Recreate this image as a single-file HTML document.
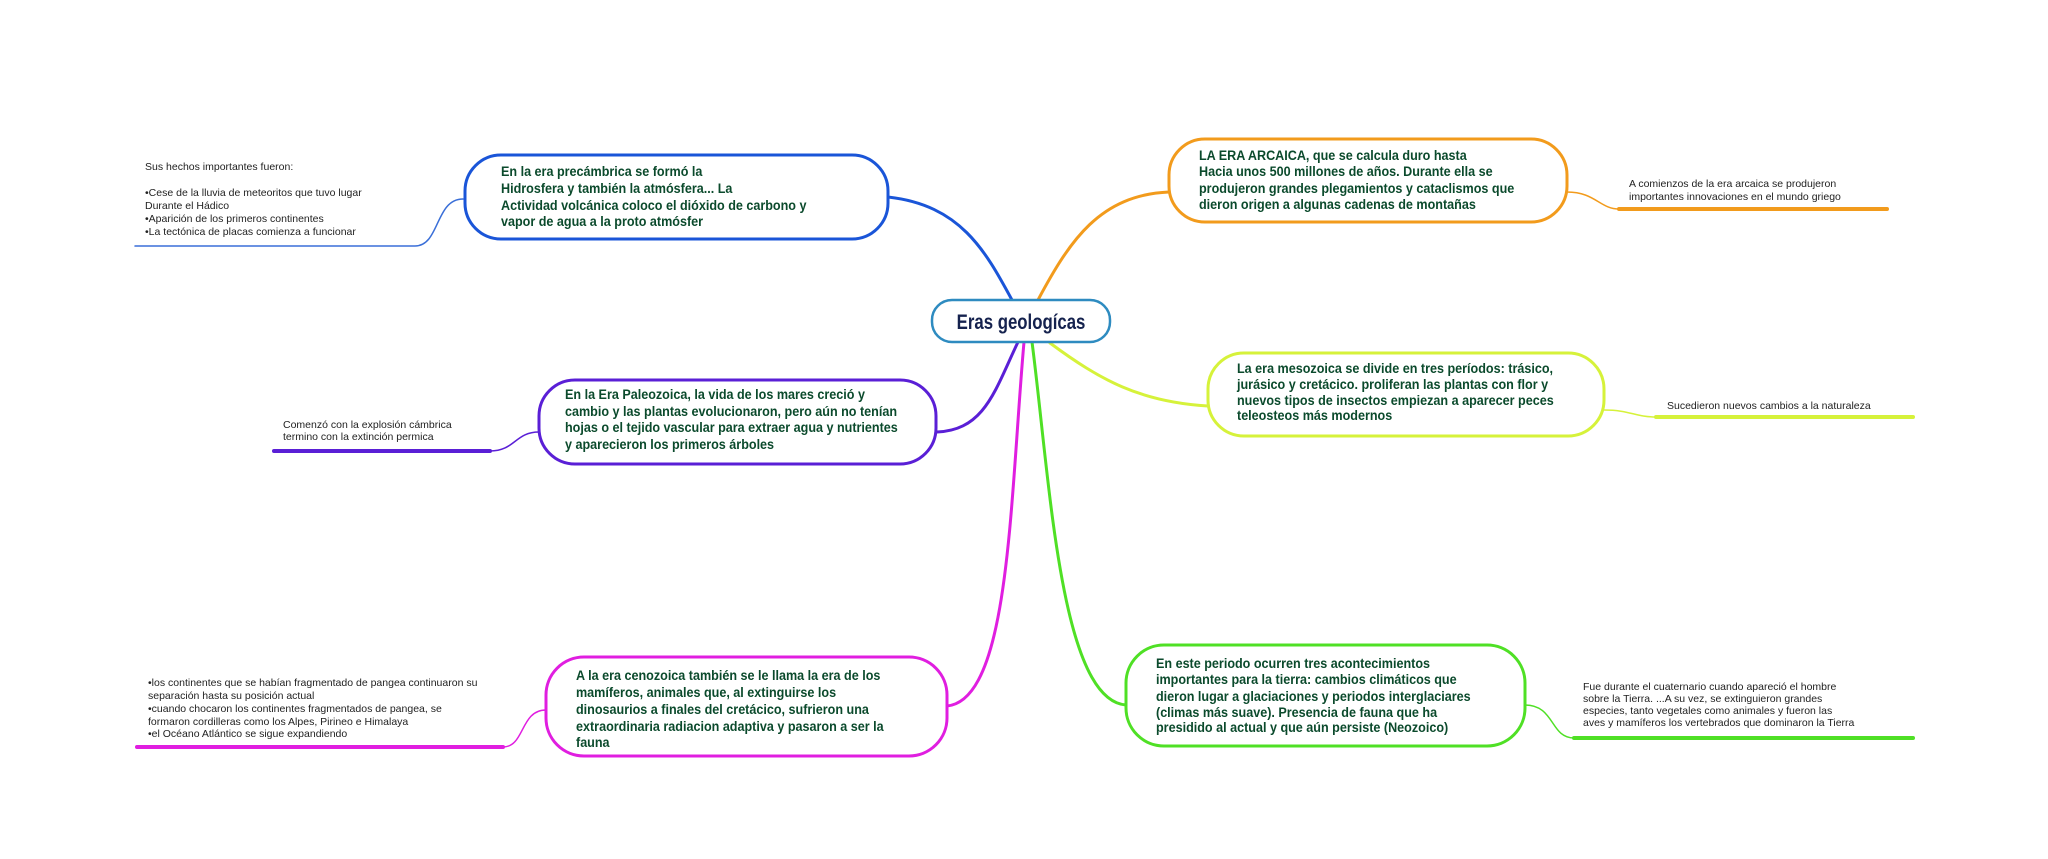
<!DOCTYPE html>
<html><head><meta charset="utf-8"><style>
html,body{margin:0;padding:0;background:#fff;}
svg{display:block;}
.m{font-family:"Liberation Sans",sans-serif;font-weight:bold;font-size:14px;fill:#0b4a2c;}
.n{font-family:"Liberation Sans",sans-serif;font-size:10.5px;fill:#222;}
</style></head><body>
<svg width="2048" height="859" viewBox="0 0 2048 859" xmlns="http://www.w3.org/2000/svg">
<g fill="none" stroke-linecap="round">
<path d="M1012,300 C985,250 960,205 888,197" stroke="#1a55d8" stroke-width="3"/>
<path d="M1038,300 C1070,240 1100,195 1169,192" stroke="#f29b1c" stroke-width="3"/>
<path d="M1050,343 C1100,380 1140,402 1208,406" stroke="#d6f23a" stroke-width="3"/>
<path d="M1032,342 C1050,480 1060,700 1126,705" stroke="#4fe025" stroke-width="3"/>
<path d="M1018,342 C995,390 985,430 937,432" stroke="#5a1fd6" stroke-width="3"/>
<path d="M1024,342 C1010,500 1010,700 947,706" stroke="#e01ee0" stroke-width="3"/>
<path d="M463,199 C435,199 440,246 415,246 L135,246" stroke="#3a6fd8" stroke-width="1.5"/>
<path d="M1567,192 C1595,192 1600,209 1619,209" stroke="#f29b1c" stroke-width="1.5"/>
<path d="M1619,209 L1887,209" stroke="#f29b1c" stroke-width="4"/>
<path d="M1604,410 C1630,410 1635,417 1656,417" stroke="#d6f23a" stroke-width="1.5"/>
<path d="M1656,417 L1913,417" stroke="#d6f23a" stroke-width="4"/>
<path d="M1525,705 C1555,705 1550,738 1574,738" stroke="#4fe025" stroke-width="1.5"/>
<path d="M1574,738 L1913,738" stroke="#4fe025" stroke-width="4"/>
<path d="M539,432 C515,432 515,451 490,451" stroke="#5a1fd6" stroke-width="1.5"/>
<path d="M490,451 L274,451" stroke="#5a1fd6" stroke-width="4"/>
<path d="M546,710 C520,710 525,747 503,747" stroke="#e01ee0" stroke-width="1.5"/>
<path d="M503,747 L137,747" stroke="#e01ee0" stroke-width="4"/>
</g>
<g fill="#fff" stroke-width="3">
<rect x="932" y="300" width="178" height="42" rx="20" stroke="#2e8bc0" stroke-width="2.5"/>
<rect x="465" y="155" width="423" height="84" rx="36" stroke="#1a55d8"/>
<rect x="1169" y="139" width="398" height="83" rx="36" stroke="#f29b1c"/>
<rect x="1208" y="353" width="396" height="83" rx="36" stroke="#d6f23a"/>
<rect x="1126" y="645" width="399" height="101" rx="38" stroke="#4fe025"/>
<rect x="539" y="380" width="397" height="84" rx="36" stroke="#5a1fd6"/>
<rect x="546" y="657" width="401" height="99" rx="38" stroke="#e01ee0"/>
</g>
<g transform="translate(1021,329) scale(0.8,1)"><text x="0" y="0" text-anchor="middle" style="font-family:'Liberation Sans',sans-serif;font-weight:bold;font-size:21px;fill:#15224e">Eras geologícas</text></g>
<g class="m" transform="translate(501,0) scale(0.9,1)">
<text y="176">En la era precámbrica se formó la</text>
<text y="193">Hidrosfera y también la atmósfera... La</text>
<text y="210">Actividad volcánica coloco el dióxido de carbono y</text>
<text y="226">vapor de agua a la proto atmósfer</text></g>
<g class="m" transform="translate(1199,0) scale(0.9,1)">
<text y="160">LA ERA ARCAICA, que se calcula duro hasta</text>
<text y="176">Hacia unos 500 millones de años. Durante ella se</text>
<text y="193">produjeron grandes plegamientos y cataclismos que</text>
<text y="209">dieron origen a algunas cadenas de montañas</text></g>
<g class="m" transform="translate(1237,0) scale(0.9,1)">
<text y="373">La era mesozoica se divide en tres períodos: trásico,</text>
<text y="389">jurásico y cretácico. proliferan las plantas con flor y</text>
<text y="405">nuevos tipos de insectos empiezan a aparecer peces</text>
<text y="420">teleosteos más modernos</text></g>
<g class="m" transform="translate(1156,0) scale(0.9,1)">
<text y="668">En este periodo ocurren tres acontecimientos</text>
<text y="684">importantes para la tierra: cambios climáticos que</text>
<text y="701">dieron lugar a glaciaciones y periodos interglaciares</text>
<text y="717">(climas más suave). Presencia de fauna que ha</text>
<text y="732">presidido al actual y que aún persiste (Neozoico)</text></g>
<g class="m" transform="translate(565,0) scale(0.9,1)">
<text y="399">En la Era Paleozoica, la vida de los mares creció y</text>
<text y="416">cambio y las plantas evolucionaron, pero aún no tenían</text>
<text y="432">hojas o el tejido vascular para extraer agua y nutrientes</text>
<text y="449">y aparecieron los primeros árboles</text></g>
<g class="m" transform="translate(576,0) scale(0.9,1)">
<text y="680">A la era cenozoica también se le llama la era de los</text>
<text y="697">mamíferos, animales que, al extinguirse los</text>
<text y="714">dinosaurios a finales del cretácico, sufrieron una</text>
<text y="731">extraordinaria radiacion adaptiva y pasaron a ser la</text>
<text y="747">fauna</text></g>
<g class="n" transform="translate(145,0)">
<text y="170">Sus hechos importantes fueron:</text>
<text y="196">•Cese de la lluvia de meteoritos que tuvo lugar</text>
<text y="209">Durante el Hádico</text>
<text y="222">•Aparición de los primeros continentes</text>
<text y="235">•La tectónica de placas comienza a funcionar</text></g>
<g class="n" transform="translate(1629,0)">
<text y="187">A comienzos de la era arcaica se produjeron</text>
<text y="200">importantes innovaciones en el mundo griego</text></g>
<g class="n" transform="translate(1667,0)">
<text y="409">Sucedieron nuevos cambios a la naturaleza</text></g>
<g class="n" transform="translate(1583,0)">
<text y="690">Fue durante el cuaternario cuando apareció el hombre</text>
<text y="702">sobre la Tierra. ...A su vez, se extinguieron grandes</text>
<text y="714">especies, tanto vegetales como animales y fueron las</text>
<text y="726">aves y mamíferos los vertebrados que dominaron la Tierra</text></g>
<g class="n" transform="translate(283,0)">
<text y="428">Comenzó con la explosión cámbrica</text>
<text y="440">termino con la extinción permica</text></g>
<g class="n" transform="translate(148,0)">
<text y="686">•los continentes que se habían fragmentado de pangea continuaron su</text>
<text y="699">separación hasta su posición actual</text>
<text y="712">•cuando chocaron los continentes fragmentados de pangea, se</text>
<text y="725">formaron cordilleras como los Alpes, Pirineo e Himalaya</text>
<text y="737">•el Océano Atlántico se sigue expandiendo</text></g>
</svg>
</body></html>
